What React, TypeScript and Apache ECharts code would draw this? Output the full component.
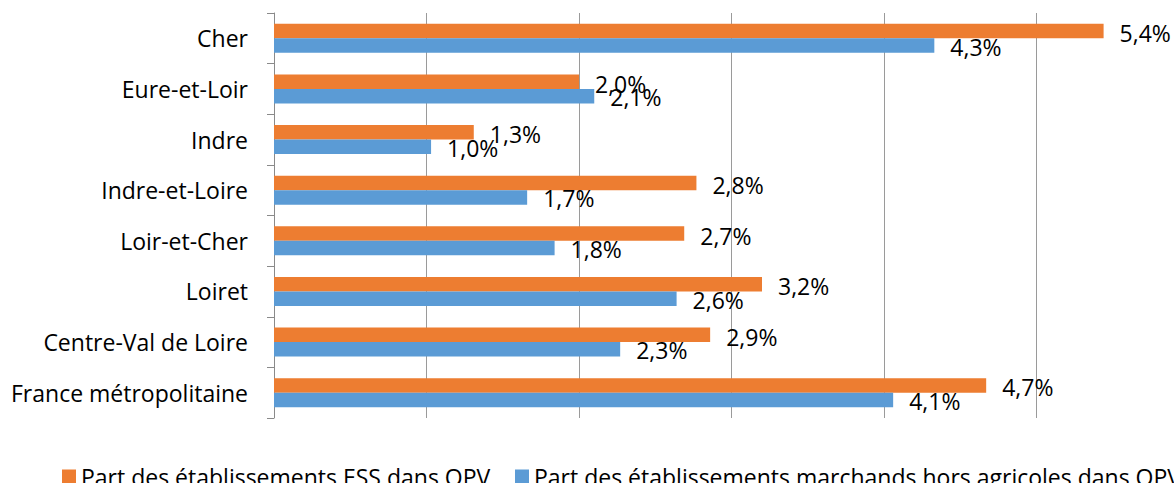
import React, { useEffect, useRef } from "react";
import * as echarts from "echarts";

const categories = [
  "Cher",
  "Eure-et-Loir",
  "Indre",
  "Indre-et-Loire",
  "Loir-et-Cher",
  "Loiret",
  "Centre-Val de Loire",
  "France métropolitaine",
];
const essValues = [5.44, 2.0, 1.31, 2.77, 2.69, 3.2, 2.86, 4.67];
const marchandsValues = [4.33, 2.1, 1.03, 1.66, 1.84, 2.64, 2.27, 4.06];
const seriesNames = [
  "Part des établissements ESS dans QPV",
  "Part des établissements marchands hors agricoles dans QPV",
];
const colors = ["#ED7D31", "#5B9BD5"];

const FONT = "Open Sans";
const FS = 23;

function fmt(v: number): string {
  return (Math.round(v * 10) / 10).toFixed(1).replace(".", ",") + "%";
}

export default function App() {
  const ref = useRef<HTMLDivElement>(null);
  useEffect(() => {
    document.body.style.margin = "0";
    const chart = echarts.init(ref.current!, null, { renderer: "svg" });
    const labelCommon = {
      show: true,
      position: "right" as const,
      distance: 16,
      fontFamily: FONT,
      fontSize: FS,
      color: "#000",
      formatter: (p: any) => fmt(p.value),
    };
    chart.setOption({
      animation: false,
      textStyle: { fontFamily: FONT },
      grid: {
        left: 274,
        top: 13,
        width: 915,
        height: 405,
        containLabel: false,
        outerBoundsMode: "none",
      },
      legend: [
        {
          left: 57,
          top: 460,
          itemWidth: 14,
          itemHeight: 14,
          icon: "rect",
          data: [seriesNames[0]],
          textStyle: { fontFamily: FONT, fontSize: FS, color: "#000" },
          selectedMode: false,
        },
        {
          left: 510,
          top: 460,
          width: 2000,
          itemWidth: 14,
          itemHeight: 14,
          icon: "rect",
          data: [seriesNames[1]],
          textStyle: { fontFamily: FONT, fontSize: FS, color: "#000" },
          selectedMode: false,
        },
      ],
      xAxis: {
        type: "value",
        min: 0,
        max: 6,
        interval: 1,
        axisLine: { show: false },
        axisTick: { show: false },
        axisLabel: { show: false },
        splitLine: { show: true, lineStyle: { color: "#9a9a9a", width: 1 } },
      },
      yAxis: {
        type: "category",
        data: categories,
        inverse: true,
        axisLine: { show: true, lineStyle: { color: "#8a8a8a", width: 1 } },
        axisTick: { show: true, length: 7, lineStyle: { color: "#8a8a8a" } },
        axisLabel: {
          margin: 26,
          fontFamily: FONT,
          fontSize: FS,
          color: "#000",
        },
      },
      series: [
        {
          name: seriesNames[0],
          type: "bar",
          data: essValues,
          barWidth: 14.5,
          barGap: "0%",
          itemStyle: { color: colors[0] },
          label: { ...labelCommon, offset: [0, 2] },
        },
        {
          name: seriesNames[1],
          type: "bar",
          data: marchandsValues,
          barWidth: 14.5,
          barGap: "0%",
          itemStyle: { color: colors[1] },
          label: { ...labelCommon, offset: [0, 1] },
        },
      ],
    });
    return () => chart.dispose();
  }, []);
  return <div ref={ref} style={{ width: 1174, height: 483 }} />;
}
